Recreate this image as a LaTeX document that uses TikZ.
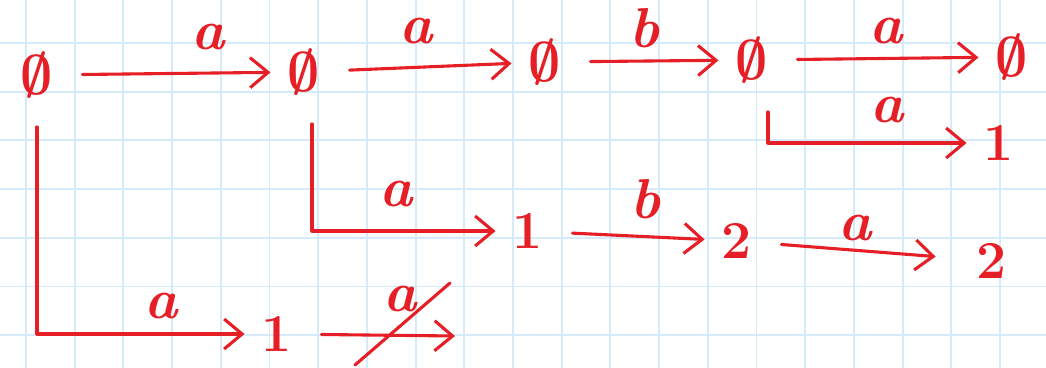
\documentclass[tikz,border=0pt]{standalone}
\usepackage{xcolor}
\usepackage{graphicx}
\usepackage{tikz}
\usetikzlibrary{arrows.meta,positioning}
\definecolor{penred}{RGB}{230,30,38}
\definecolor{gridblue}{RGB}{214,235,250}
\newcommand{\eset}{\scalebox{1.6}{\boldmath$\emptyset$}}

\begin{document}
\begin{tikzpicture}[x=0.025cm,y=-0.025cm,
  st/.style={text=penred,font=\fontsize{38}{38}\selectfont\bfseries,inner sep=1pt,outer sep=4mm},
  lbl/.style={text=penred,font=\fontsize{40}{40}\selectfont\bfseries\itshape,inner sep=0pt},
  arr/.style={-{Straight Barb[length=4.5mm,width=7.5mm]},penred,line width=2.2pt,
              line cap=round,line join=round,shorten <=3mm},
  pen/.style={penred,line width=2.2pt,line cap=round},
  gridln/.style={gridblue,line width=1.4pt}
]
\useasboundingbox (0,0) rectangle (1046,368);
\fill[white] (0,0) rectangle (1046,368);
% squared paper
\foreach \k in {0,...,20}
  \draw[gridln] ({26+48.7*\k},0) -- ({26+48.7*\k},368);
\foreach \k in {0,...,6}
  \draw[gridln] (0,{43+48.7*\k}) -- (1046,{43+48.7*\k});

% top row: empty sets
\node[st] (e1) at (37,75)   {\eset};
\node[st] (e2) at (304,72)  {\eset};
\node[st] (e3) at (545,62)  {\eset};
\node[st] (e4) at (752,60)  {\eset};
\node[st] (e5) at (1012,57) {\eset};
% lower rows
\node[st] (o1) at (999,143) {1};
\node[st] (o2) at (528,231) {1};
\node[st] (t1) at (737,241) {2};
\node[st] (t2) at (992,261) {2};
\node[st] (o3) at (277,334) {1};
\coordinate (xend) at (455,336);

\draw[arr] (e1) -- node[lbl,pos=0.69,above=5.5mm]{a} (e2);
\draw[arr] (e2) -- node[lbl,pos=0.45,above=5.5mm]{a} (e3);
\draw[arr] (e3) -- node[lbl,pos=0.47,above=3mm]{b} (e4);
\draw[arr] (e4) -- node[lbl,pos=0.52,above=3.2mm]{a} (e5);
\draw[arr] ([xshift=4mm]e4.south) |- node[lbl,pos=0.8,above=4.5mm]{a} (o1);
\draw[arr] ([xshift=2mm]e2.south) |- node[lbl,pos=0.73,above=5.5mm]{a} (o2);
\draw[arr] (o2) -- node[lbl,pos=0.59,above=4mm]{b} (t1);
\draw[arr,shorten >=6mm] (t1) -- node[lbl,pos=0.45,above=2mm]{a} (t2);
\draw[arr] (e1) |- node[lbl,pos=0.8,above=3.5mm]{a} (o3);
\draw[arr] (o3) -- node[lbl,pos=0.62,above=5.5mm] (xa) {a} (xend);
% crossed out
\draw[pen] (355,365) -- (450,283);
\end{tikzpicture}
\end{document}
